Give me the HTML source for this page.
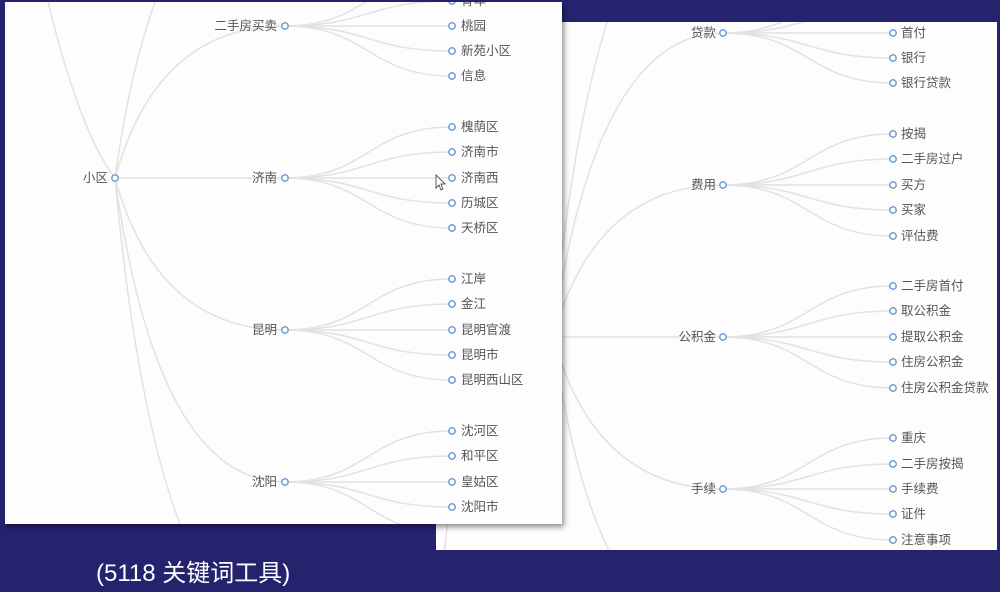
<!DOCTYPE html>
<html><head><meta charset="utf-8"><style>
html,body{margin:0;padding:0;width:1000px;height:592px;overflow:hidden;background:#25236e;}
svg{display:block}
text{font-family:"Liberation Sans","Noto Sans CJK SC",sans-serif;}
</style></head><body>
<svg width="1000" height="592" viewBox="0 0 1000 592" xmlns="http://www.w3.org/2000/svg">
<defs>
<clipPath id="cl"><rect x="5" y="2" width="557" height="522"/></clipPath>
<clipPath id="cr"><rect x="436" y="22" width="561" height="528"/></clipPath>
<filter id="sh" x="-5%" y="-5%" width="110%" height="110%"><feDropShadow dx="2" dy="3" stdDeviation="3" flood-color="#000" flood-opacity="0.45"/></filter>
</defs>
<rect width="1000" height="592" fill="#25236e"/>
<!-- right panel -->
<rect x="436" y="22" width="561" height="528" fill="#fdfdfd"/>
<g clip-path="url(#cr)" fill="none" stroke="#e2e2e4" stroke-width="1.5">
<path d="M553,337 Q450,350 440,620"/>
<path d="M553,337 Q595,-119 723,-119"/>
<path d="M553,337 Q595,33 723,33"/>
<path d="M553,337 Q595,185 723,185"/>
<path d="M553,337 L723,337"/>
<path d="M553,337 Q595,489 723,489"/>
<path d="M553,337 Q595,641 723,641"/>
<path d="M723,33 C808,33 808,-18 893,-18"/><path d="M723,33 C808,33 808,8 893,8"/><path d="M723,33 L893,33"/><path d="M723,33 C808,33 808,58 893,58"/><path d="M723,33 C808,33 808,83 893,83"/>
<path d="M723,185 C808,185 808,134 893,134"/><path d="M723,185 C808,185 808,159 893,159"/><path d="M723,185 L893,185"/><path d="M723,185 C808,185 808,210 893,210"/><path d="M723,185 C808,185 808,236 893,236"/>
<path d="M723,337 C808,337 808,286 893,286"/><path d="M723,337 C808,337 808,311 893,311"/><path d="M723,337 L893,337"/><path d="M723,337 C808,337 808,362 893,362"/><path d="M723,337 C808,337 808,388 893,388"/>
<path d="M723,489 C808,489 808,438 893,438"/><path d="M723,489 C808,489 808,464 893,464"/><path d="M723,489 L893,489"/><path d="M723,489 C808,489 808,514 893,514"/><path d="M723,489 C808,489 808,540 893,540"/>
</g>
<g fill="#fff" stroke="#6c9fd6" stroke-width="1.5">
<circle cx="723" cy="33" r="3.2"/><circle cx="723" cy="185" r="3.2"/><circle cx="723" cy="337" r="3.2"/><circle cx="723" cy="489" r="3.2"/>
<circle cx="893" cy="33" r="3.2"/><circle cx="893" cy="58" r="3.2"/><circle cx="893" cy="83" r="3.2"/>
<circle cx="893" cy="134" r="3.2"/><circle cx="893" cy="159" r="3.2"/><circle cx="893" cy="185" r="3.2"/><circle cx="893" cy="210" r="3.2"/><circle cx="893" cy="236" r="3.2"/>
<circle cx="893" cy="286" r="3.2"/><circle cx="893" cy="311" r="3.2"/><circle cx="893" cy="337" r="3.2"/><circle cx="893" cy="362" r="3.2"/><circle cx="893" cy="388" r="3.2"/>
<circle cx="893" cy="438" r="3.2"/><circle cx="893" cy="464" r="3.2"/><circle cx="893" cy="489" r="3.2"/><circle cx="893" cy="514" r="3.2"/><circle cx="893" cy="540" r="3.2"/>
</g>
<g font-size="12.5" fill="#555" dominant-baseline="central">
<g text-anchor="end">
<text x="716" y="33">贷款</text><text x="716" y="185">费用</text><text x="716" y="337">公积金</text><text x="716" y="489">手续</text>
</g>
<text x="901" y="33">首付</text><text x="901" y="58">银行</text><text x="901" y="83">银行贷款</text>
<text x="901" y="134">按揭</text><text x="901" y="159">二手房过户</text><text x="901" y="185">买方</text><text x="901" y="210">买家</text><text x="901" y="236">评估费</text>
<text x="901" y="286">二手房首付</text><text x="901" y="311">取公积金</text><text x="901" y="337">提取公积金</text><text x="901" y="362">住房公积金</text><text x="901" y="388">住房公积金贷款</text>
<text x="901" y="438">重庆</text><text x="901" y="464">二手房按揭</text><text x="901" y="489">手续费</text><text x="901" y="514">证件</text><text x="901" y="540">注意事项</text>
</g>
<!-- left panel -->
<rect x="5" y="2" width="557" height="522" fill="#fdfdfd" filter="url(#sh)"/>
<g clip-path="url(#cl)" fill="none" stroke="#e2e2e4" stroke-width="1.5">
<path d="M115,178 Q70,120 30,-80"/>
<path d="M115,178 Q157,-126 285,-126"/>
<path d="M115,178 Q157,26 285,26"/>
<path d="M115,178 L285,178"/>
<path d="M115,178 Q157,330 285,330"/>
<path d="M115,178 Q157,482 285,482"/>
<path d="M115,178 Q157,634 285,634"/>
<path d="M285,26 C368,26 368,-25 452,-25"/><path d="M285,26 C368,26 368,1 452,1"/><path d="M285,26 L452,26"/><path d="M285,26 C368,26 368,51 452,51"/><path d="M285,26 C368,26 368,76 452,76"/>
<path d="M285,178 C368,178 368,127 452,127"/><path d="M285,178 C368,178 368,152 452,152"/><path d="M285,178 L452,178"/><path d="M285,178 C368,178 368,203 452,203"/><path d="M285,178 C368,178 368,228 452,228"/>
<path d="M285,330 C368,330 368,279 452,279"/><path d="M285,330 C368,330 368,304 452,304"/><path d="M285,330 L452,330"/><path d="M285,330 C368,330 368,355 452,355"/><path d="M285,330 C368,330 368,380 452,380"/>
<path d="M285,482 C368,482 368,431 452,431"/><path d="M285,482 C368,482 368,456 452,456"/><path d="M285,482 L452,482"/><path d="M285,482 C368,482 368,507 452,507"/><path d="M285,482 C368,482 368,533 452,533"/>
</g>
<g fill="#fff" stroke="#6c9fd6" stroke-width="1.5" clip-path="url(#cl)">
<circle cx="115" cy="178" r="3.2"/>
<circle cx="285" cy="26" r="3.2"/><circle cx="285" cy="178" r="3.2"/><circle cx="285" cy="330" r="3.2"/><circle cx="285" cy="482" r="3.2"/>
<circle cx="452" cy="1" r="3.2"/><circle cx="452" cy="26" r="3.2"/><circle cx="452" cy="51" r="3.2"/><circle cx="452" cy="76" r="3.2"/>
<circle cx="452" cy="127" r="3.2"/><circle cx="452" cy="152" r="3.2"/><circle cx="452" cy="178" r="3.2"/><circle cx="452" cy="203" r="3.2"/><circle cx="452" cy="228" r="3.2"/>
<circle cx="452" cy="279" r="3.2"/><circle cx="452" cy="304" r="3.2"/><circle cx="452" cy="330" r="3.2"/><circle cx="452" cy="355" r="3.2"/><circle cx="452" cy="380" r="3.2"/>
<circle cx="452" cy="431" r="3.2"/><circle cx="452" cy="456" r="3.2"/><circle cx="452" cy="482" r="3.2"/><circle cx="452" cy="507" r="3.2"/>
</g>
<g font-size="12.5" fill="#555" dominant-baseline="central" clip-path="url(#cl)">
<g text-anchor="end">
<text x="108" y="178">小区</text>
<text x="277" y="26">二手房买卖</text><text x="277" y="178">济南</text><text x="277" y="330">昆明</text><text x="277" y="482">沈阳</text>
</g>
<text x="461" y="1">青年</text><text x="461" y="26">桃园</text><text x="461" y="51">新苑小区</text><text x="461" y="76">信息</text>
<text x="461" y="127">槐荫区</text><text x="461" y="152">济南市</text><text x="461" y="178">济南西</text><text x="461" y="203">历城区</text><text x="461" y="228">天桥区</text>
<text x="461" y="279">江岸</text><text x="461" y="304">金江</text><text x="461" y="330">昆明官渡</text><text x="461" y="355">昆明市</text><text x="461" y="380">昆明西山区</text>
<text x="461" y="431">沈河区</text><text x="461" y="456">和平区</text><text x="461" y="482">皇姑区</text><text x="461" y="507">沈阳市</text>
</g>
<path d="M436,175 L436,188 L439,185 L441,190 L443,189 L441,184 L445,184 Z" fill="#fff" stroke="#333" stroke-width="0.8"/>
<text x="96" y="581" font-size="24" fill="#fff">(5118 关键词工具)</text>
</svg>
</body></html>
